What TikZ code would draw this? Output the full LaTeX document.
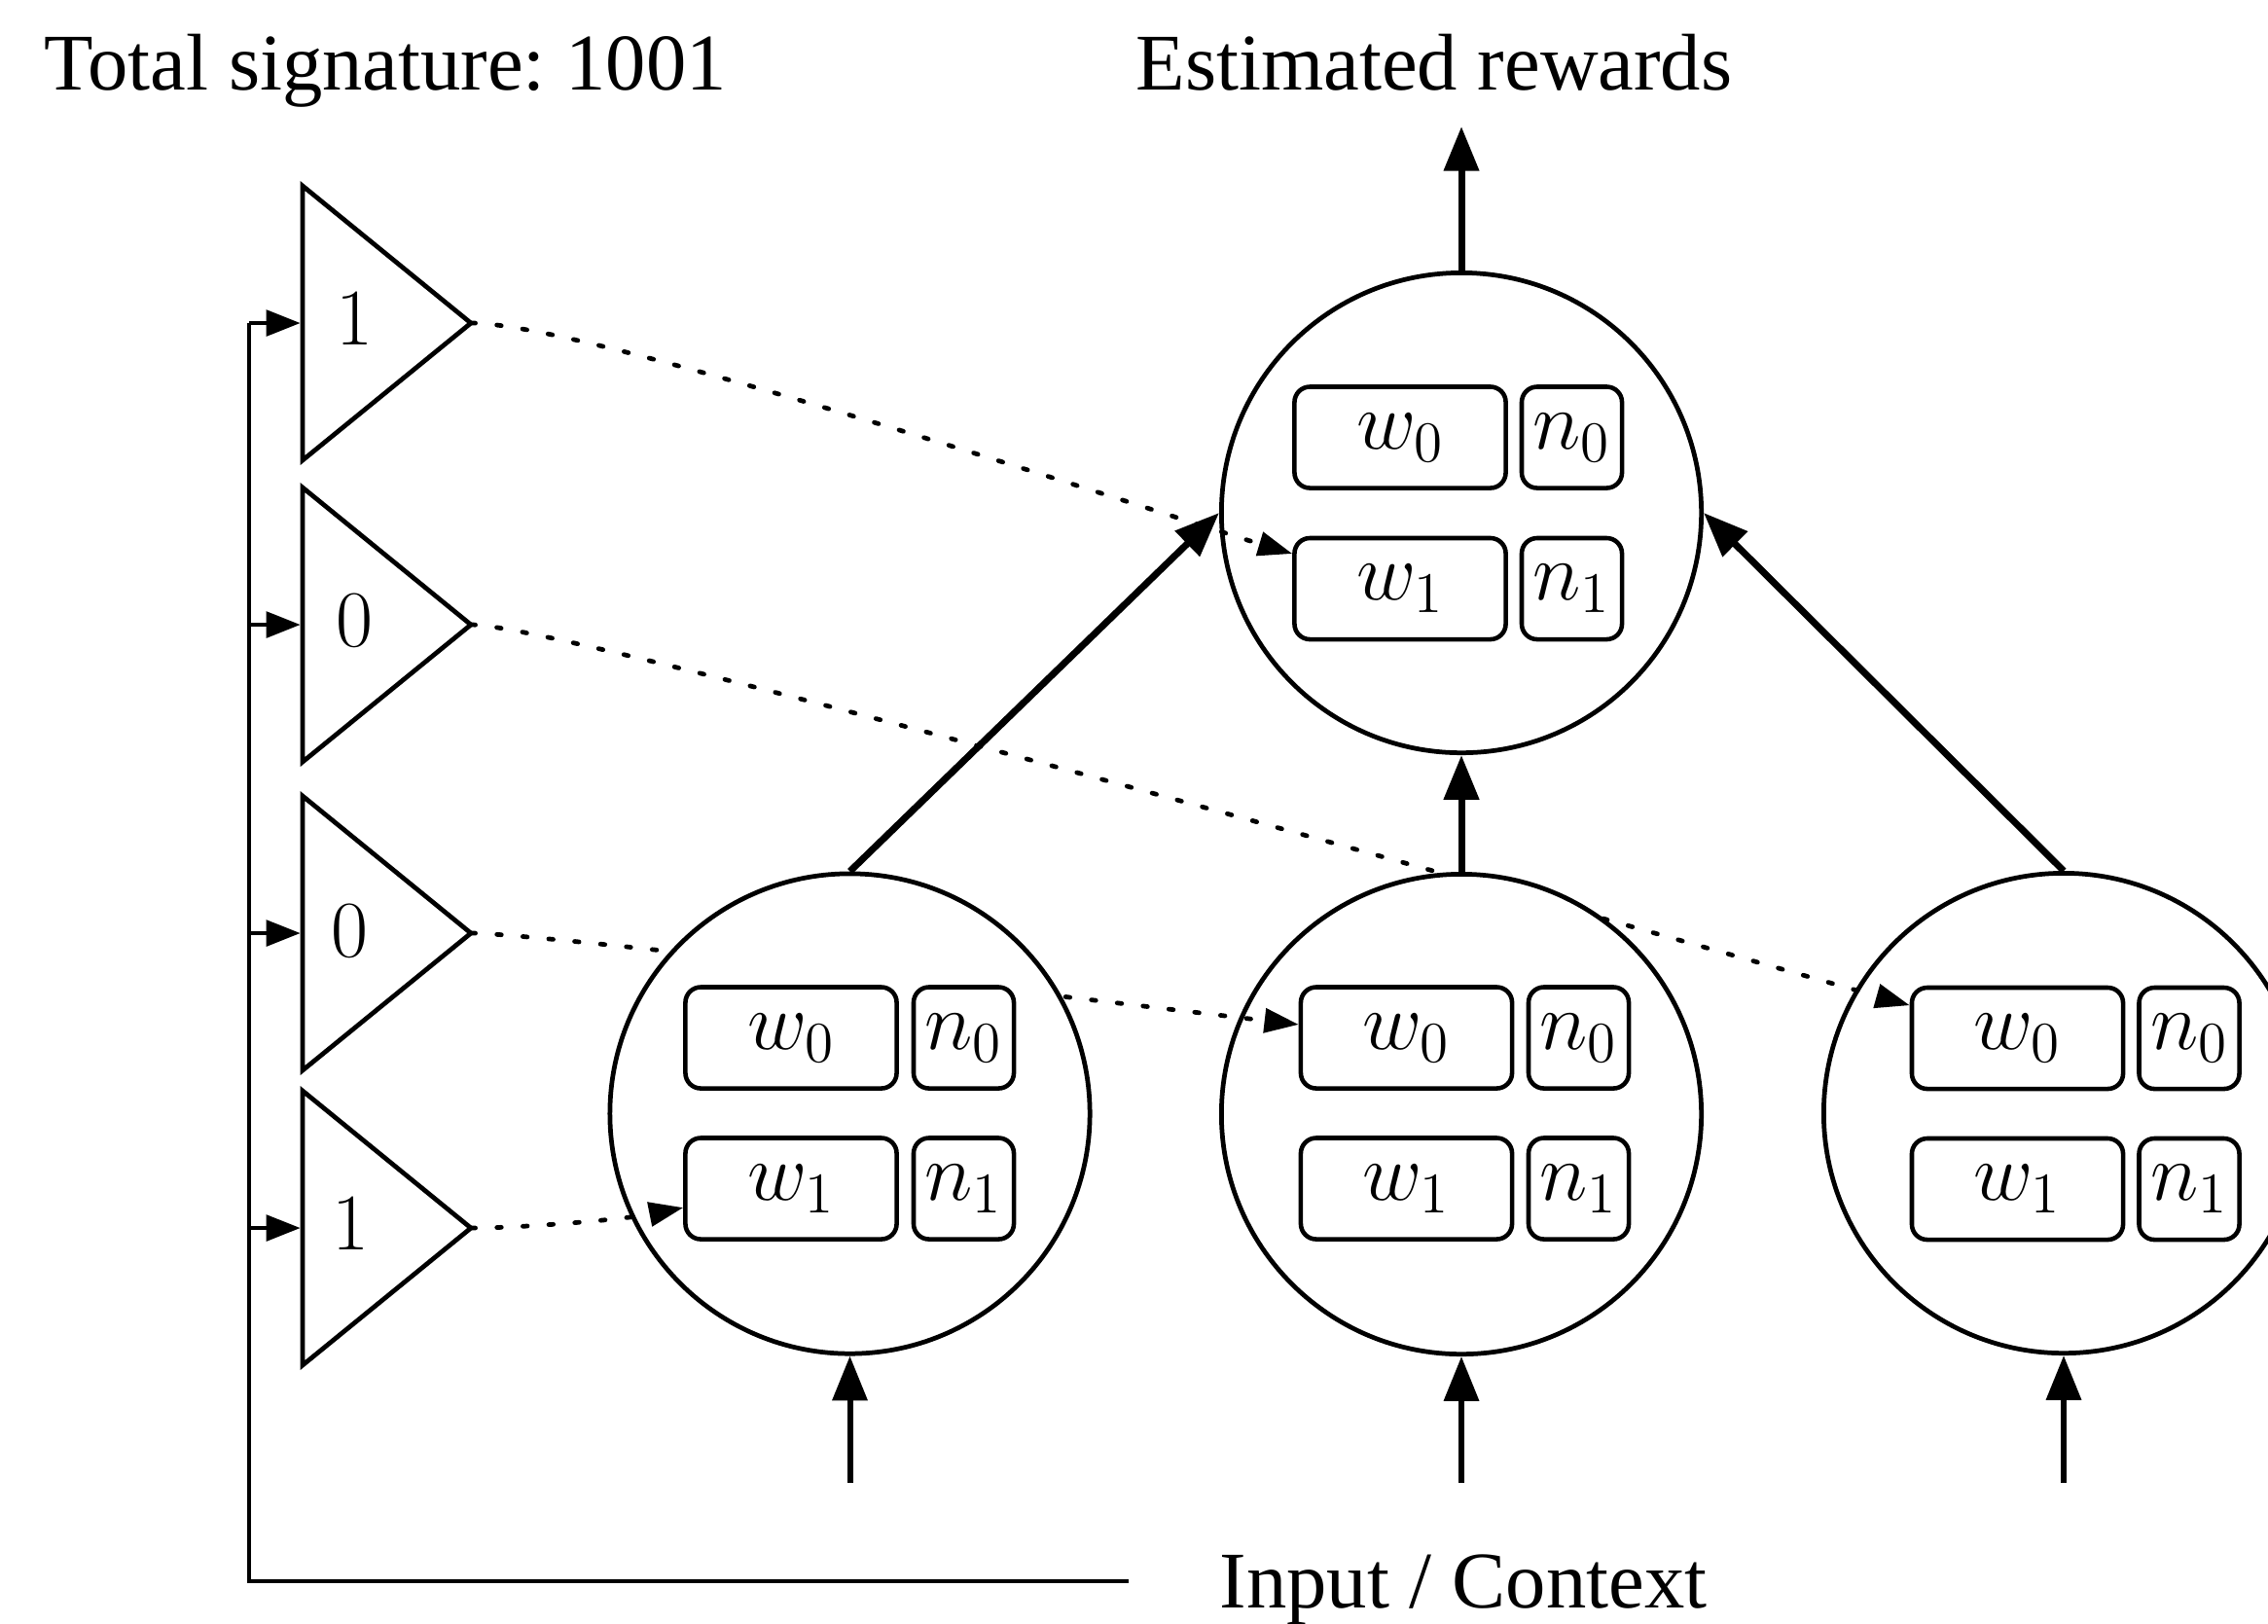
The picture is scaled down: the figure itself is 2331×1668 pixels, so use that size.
\RequirePackage{fix-cm}
\documentclass[tikz,border=0pt]{standalone}
\usepackage[no-math]{fontspec}
\setmainfont{Liberation Serif}
\usetikzlibrary{shapes.geometric,arrows.meta,calc}
\frenchspacing

\begin{document}
\begin{tikzpicture}[x=0.01cm,y=-0.01cm,
  heading/.style={font=\fontsize{23.5}{28}\selectfont, inner sep=0pt},
  gate/.style={isosceles triangle, isosceles triangle stretches, draw, line width=1.35pt,
    minimum width=2.82cm, minimum height=1.73cm, inner sep=0pt, outer sep=0pt, anchor=apex},
  gatebit/.style={font=\fontsize{23.5}{28}\selectfont, inner sep=0pt},
  unitnode/.style={circle, draw, fill=white, line width=1.35pt, minimum size=4.93cm, inner sep=0pt},
  wbox/.style={draw, rounded corners=4.5pt, line width=1.3pt, minimum width=2.17cm,
    minimum height=1.04cm, inner sep=0pt, font=\fontsize{24}{28}\selectfont},
  nbox/.style={wbox, minimum width=1.03cm},
  flow/.style={line width=2pt, -{Triangle[length=13pt,width=10pt]}},
  inflow/.style={line width=1.7pt, -{Triangle[length=13pt,width=10pt]}},
  busline/.style={line width=1.35pt},
  tap/.style={line width=1.35pt, -{Triangle[length=10pt,width=7.5pt]}, shorten >=0.6pt},
  route/.style={line width=1.35pt, dash pattern=on 1.3pt off 6.3pt, line cap=round,
    -{Triangle[length=10pt,width=7pt]}},
]
\useasboundingbox (0,0) rectangle (2331,1668);

% captions
\node[heading, anchor=base west] (sig) at (45,92) {Total signature: 1001};
\node[heading, anchor=base] (est) at (1474,92) {Estimated rewards};
\node[heading, anchor=base] (ctx) at (1504,1652) {Input / Context};

% signature gates
\node[gate] (g1) at (484,332) {};
\node[gate] (g2) at (484,642) {};
\node[gate] (g3) at (484,959) {};
\node[gate] (g4) at (484,1262) {};
\node[gatebit] (b1) at ($(g1.west)+(54,-4)$) {$1$};
\node[gatebit] (b2) at ($(g2.west)+(54,-4)$) {$0$};
\node[gatebit] (b3) at ($(g3.west)+(49,-2)$) {$0$};
\node[gatebit] (b4) at ($(g4.west)+(50,-4)$) {$1$};

% input bus feeding the gates
\coordinate (bustop) at (256,332);
\coordinate (busend) at (1160,1625);
\draw[busline] (g1.west -| bustop) -- (bustop |- busend) -- (busend);
\foreach \g in {g1,g2,g3,g4}
  \draw[tap] (\g.west -| bustop) -- (\g.west);

% right unit
\node[unitnode] (R) at (2121,1144) {};
\node[wbox] (Rw0) at (2073.5,1067) {$w_0$};
\node[nbox] (Rn0) at (2250,1067) {$n_0$};
\node[wbox] (Rw1) at (2073.5,1222) {$w_1$};
\node[nbox] (Rn1) at (2250,1222) {$n_1$};
\draw[route] (g2.apex) .. controls +(110,0) and +(-160,-45) .. (Rw0.163);

% middle unit
\node[unitnode] (M) at (1502,1145) {};
\node[wbox] (Mw0) at (1445.5,1066.5) {$w_0$};
\node[nbox] (Mn0) at (1622.5,1066.5) {$n_0$};
\node[wbox] (Mw1) at (1445.5,1221.5) {$w_1$};
\node[nbox] (Mn1) at (1622.5,1221.5) {$n_1$};
\draw[route] (g3.apex) .. controls +(75,0) and +(-120,-14) .. (Mw0.173);

% left unit
\node[unitnode] (L) at (873.5,1144.5) {};
\node[wbox] (Lw0) at (813,1066.5) {$w_0$};
\node[nbox] (Ln0) at (990.5,1066.5) {$n_0$};
\node[wbox] (Lw1) at (813,1221.5) {$w_1$};
\node[nbox] (Ln1) at (990.5,1221.5) {$n_1$};
\draw[route] (g4.apex) .. controls +(55,0) and +(-60,12) .. (Lw1.190);

% top unit
\node[unitnode] (T) at (1502,527) {};
\node[wbox] (Tw0) at (1439,449.5) {$w_0$};
\node[nbox] (Tn0) at (1615.5,449.5) {$n_0$};
\node[wbox] (Tw1) at (1439,605) {$w_1$};
\node[nbox] (Tn1) at (1615.5,605) {$n_1$};
\draw[route] (g1.apex) .. controls +(125,0) and +(-110,-33) .. (Tw1.162);

% data flow
\coordinate (out) at (1502,130);
\coordinate (inL) at (873.5,1524);
\coordinate (inM) at (1502,1524);
\coordinate (inR) at (2121,1524);
\draw[flow] (T.north) -- (out);
\draw[flow] (L.north) -- (T.west);
\draw[flow] (M.north) -- (T.south);
\draw[flow] (R.north) -- (T.east);
\draw[inflow] (inL) -- (L.south);
\draw[inflow] (inM) -- (M.south);
\draw[inflow] (inR) -- (R.south);
\end{tikzpicture}
\end{document}
